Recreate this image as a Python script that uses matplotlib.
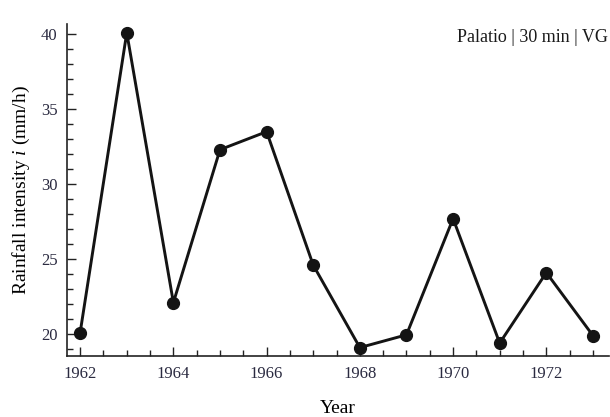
import matplotlib
matplotlib.use("Agg")
import matplotlib.pyplot as plt
from matplotlib.ticker import MultipleLocator

years = [1962, 1963, 1964, 1965, 1966, 1967, 1968, 1969, 1970, 1971, 1972, 1973]
intensity = [20.1, 40.1, 22.1, 32.3, 33.5, 24.6, 19.1, 19.95, 27.7, 19.4, 24.1, 19.9]
x_ticks = [1962, 1964, 1966, 1968, 1970, 1972]
y_ticks = [20, 25, 30, 35, 40]

plt.rcParams['font.family'] = ['Liberation Serif', 'DejaVu Serif']
plt.rcParams['mathtext.fontset'] = 'custom'
plt.rcParams['mathtext.it'] = 'Liberation Serif:italic'
plt.rcParams['mathtext.rm'] = 'Liberation Serif'

fig = plt.figure(figsize=(6.10, 4.17), dpi=100)
ax = fig.add_axes([0.110, 0.146, 0.888, 0.796])

ax.plot(years, intensity, color='#141414', lw=2.1, marker='o', ms=8.5,
        markerfacecolor='#141414', markeredgecolor='#141414', clip_on=False, zorder=3)

ax.set_xlim(1961.72, 1973.34)
ax.set_ylim(18.53, 40.67)
ax.set_xticks(x_ticks)
ax.set_yticks(y_ticks)
ax.xaxis.set_minor_locator(MultipleLocator(0.5))
ax.yaxis.set_minor_locator(MultipleLocator(1))

for s in ['top', 'right']:
    ax.spines[s].set_visible(False)
for s in ['left', 'bottom']:
    ax.spines[s].set_linewidth(1.2)
    ax.spines[s].set_color('#222222')

ax.tick_params(which='major', direction='in', length=6.5, width=1.0, color='#222222',
               labelsize=12, labelcolor='#2a2a40', pad=7)
ax.tick_params(which='minor', direction='in', length=4, width=1.0, color='#222222')

ax.set_xlabel('Year', fontsize=14, labelpad=13)
ax.set_ylabel(r'Rainfall intensity $i$ (mm/h)', fontsize=14, labelpad=6)

ax.text(0.998, 0.985, 'Palatio | 30 min | VG', transform=ax.transAxes,
        ha='right', va='top', fontsize=13, color='#1a1a1a')

fig.savefig('out.png', dpi=100)
